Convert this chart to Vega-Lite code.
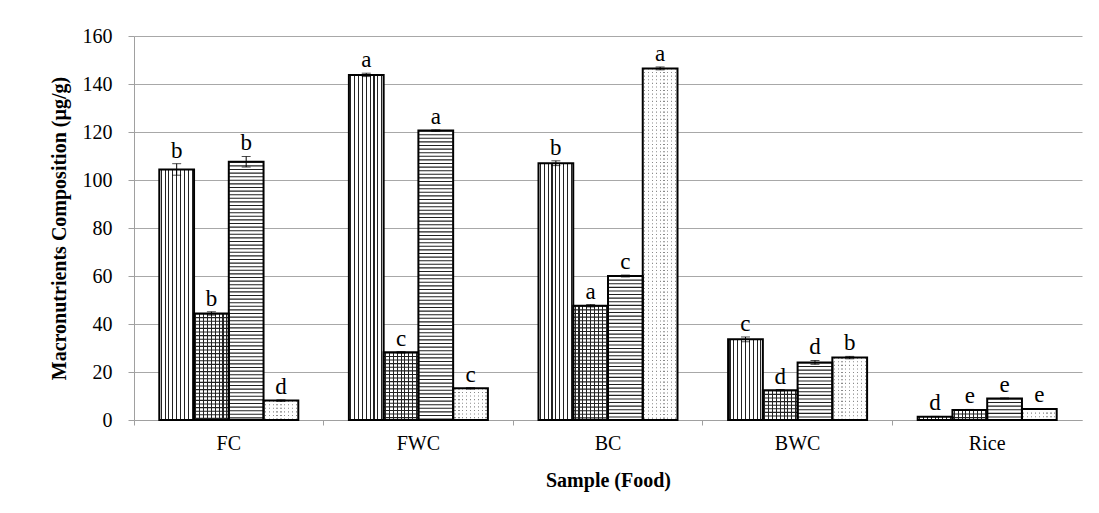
{
  "$schema": "https://vega.github.io/schema/vega-lite/v6.json",
  "width": 948,
  "height": 384,
  "autosize": {"type": "none"},
  "padding": {"left": 134, "top": 36, "right": 17, "bottom": 93},
  "background": "white",
  "config": {
    "font": "Liberation Serif",
    "view": {"stroke": null}
  },
  "data": {"values": [
    {"sample": "FC", "series": "s1", "value": 104.4, "lo": 102.0, "hi": 106.8, "letter": "b"},
    {"sample": "FC", "series": "s2", "value": 44.4, "lo": 43.7, "hi": 45.1, "letter": "b"},
    {"sample": "FC", "series": "s3", "value": 107.6, "lo": 105.4, "hi": 109.8, "letter": "b"},
    {"sample": "FC", "series": "s4", "value": 8.1, "lo": 7.8, "hi": 8.4, "letter": "d"},
    {"sample": "FWC", "series": "s1", "value": 143.8, "lo": 143.1, "hi": 144.5, "letter": "a"},
    {"sample": "FWC", "series": "s2", "value": 28.2, "lo": 27.9, "hi": 28.5, "letter": "c"},
    {"sample": "FWC", "series": "s3", "value": 120.6, "lo": 120.3, "hi": 120.9, "letter": "a"},
    {"sample": "FWC", "series": "s4", "value": 13.2, "lo": 12.9, "hi": 13.5, "letter": "c"},
    {"sample": "BC", "series": "s1", "value": 107.0, "lo": 106.0, "hi": 108.0, "letter": "b"},
    {"sample": "BC", "series": "s2", "value": 47.6, "lo": 47.1, "hi": 48.1, "letter": "a"},
    {"sample": "BC", "series": "s3", "value": 60.0, "lo": 59.6, "hi": 60.4, "letter": "c"},
    {"sample": "BC", "series": "s4", "value": 146.5, "lo": 145.9, "hi": 147.1, "letter": "a"},
    {"sample": "BWC", "series": "s1", "value": 33.6, "lo": 32.6, "hi": 34.6, "letter": "c"},
    {"sample": "BWC", "series": "s2", "value": 12.4, "lo": 12.1, "hi": 12.7, "letter": "d"},
    {"sample": "BWC", "series": "s3", "value": 24.0, "lo": 23.2, "hi": 24.8, "letter": "d"},
    {"sample": "BWC", "series": "s4", "value": 26.0, "lo": 25.5, "hi": 26.5, "letter": "b"},
    {"sample": "Rice", "series": "s1", "value": 1.4, "lo": 1.3, "hi": 1.5, "letter": "d"},
    {"sample": "Rice", "series": "s2", "value": 4.2, "lo": 4.0, "hi": 4.4, "letter": "e"},
    {"sample": "Rice", "series": "s3", "value": 9.0, "lo": 8.8, "hi": 9.2, "letter": "e"},
    {"sample": "Rice", "series": "s4", "value": 4.6, "lo": 4.4, "hi": 4.8, "letter": "e"}
  ]},
  "encoding": {
    "x": {
      "field": "sample", "type": "nominal",
      "scale": {"domain": ["FC", "FWC", "BC", "BWC", "Rice"], "paddingInner": 0, "paddingOuter": 0},
      "axis": {
        "title": "Sample (Food)", "titleFont": "Liberation Serif", "titleFontSize": 20, "titleFontWeight": "bold", "titlePadding": 17,
        "labelFont": "Liberation Serif", "labelAngle": 0, "labelFontSize": 20, "labelPadding": 8, "labelColor": "#000", "titleColor": "#000",
        "bandPosition": 0, "tickSize": 5, "tickColor": "#a0a0a0",
        "domainColor": "#a0a0a0", "grid": false
      }
    },
    "xOffset": {
      "field": "series", "type": "nominal",
      "scale": {"domain": ["s1", "s2", "s3", "s4"], "paddingInner": 0, "paddingOuter": 0.728}
    },
    "y": {
      "field": "value", "type": "quantitative",
      "scale": {"domain": [0, 160], "nice": false, "zero": true},
      "axis": {
        "title": "Macronutrients Composition (µg/g)", "titleFont": "Liberation Serif", "titleFontSize": 20, "titleFontWeight": "bold", "titlePadding": 13,
        "labelFont": "Liberation Serif", "labelFontSize": 20, "labelPadding": 16, "labelColor": "#000", "titleColor": "#000",
        "values": [0, 20, 40, 60, 80, 100, 120, 140, 160],
        "tickSize": 6, "tickColor": "#a0a0a0", "domainColor": "#a0a0a0",
        "grid": true, "gridColor": "#a8a8a8", "gridWidth": 1
      }
    }
  },
  "layer": [
    {
      "transform": [{"filter": "datum.series === 's1' || datum.series === 's2'"}],
      "mark": {"type": "bar", "fill": {
        "gradient": "linear", "x1": 0, "y1": 0, "x2": 1, "y2": 0,
        "stops": [
          {"offset": 0, "color": "white"}, {"offset": 0.040, "color": "white"}, {"offset": 0.040, "color": "#222"}, {"offset": 0.070, "color": "#222"}, {"offset": 0.070, "color": "white"},
          {"offset": 0.151, "color": "white"}, {"offset": 0.151, "color": "#222"}, {"offset": 0.181, "color": "#222"}, {"offset": 0.181, "color": "white"},
          {"offset": 0.262, "color": "white"}, {"offset": 0.262, "color": "#222"}, {"offset": 0.292, "color": "#222"}, {"offset": 0.292, "color": "white"},
          {"offset": 0.373, "color": "white"}, {"offset": 0.373, "color": "#222"}, {"offset": 0.403, "color": "#222"}, {"offset": 0.403, "color": "white"},
          {"offset": 0.485, "color": "white"}, {"offset": 0.485, "color": "#222"}, {"offset": 0.515, "color": "#222"}, {"offset": 0.515, "color": "white"},
          {"offset": 0.596, "color": "white"}, {"offset": 0.596, "color": "#222"}, {"offset": 0.626, "color": "#222"}, {"offset": 0.626, "color": "white"},
          {"offset": 0.707, "color": "white"}, {"offset": 0.707, "color": "#222"}, {"offset": 0.737, "color": "#222"}, {"offset": 0.737, "color": "white"},
          {"offset": 0.818, "color": "white"}, {"offset": 0.818, "color": "#222"}, {"offset": 0.848, "color": "#222"}, {"offset": 0.848, "color": "white"},
          {"offset": 0.929, "color": "white"}, {"offset": 0.929, "color": "#222"}, {"offset": 0.959, "color": "#222"}, {"offset": 0.959, "color": "white"},
          {"offset": 1, "color": "white"}
        ]}}
    },
    {
      "transform": [{"filter": "datum.series === 's3' || datum.series === 's4'"}],
      "mark": {"type": "bar", "fill": "white"}
    },
    {
      "transform": [{"filter": "datum.series !== 's1'"}],
      "mark": {"type": "rule", "strokeWidth": 34, "strokeDash": [1.1, 2.5], "strokeCap": "butt"},
      "encoding": {
        "y2": {"datum": 0},
        "color": {"condition": {"test": "datum.series === 's4'", "value": "#8a8a8a"}, "value": "#222"}
      }
    },
    {
      "transform": [{"filter": "datum.series === 's4'"}],
      "mark": {"type": "bar", "fill": {
        "gradient": "linear", "x1": 0, "y1": 0, "x2": 1, "y2": 0,
        "stops": [
          {"offset": 0, "color": "white"}, {"offset": 0.038, "color": "white"}, {"offset": 0.038, "color": "rgba(255,255,255,0)"}, {"offset": 0.073, "color": "rgba(255,255,255,0)"}, {"offset": 0.073, "color": "white"},
          {"offset": 0.149, "color": "white"}, {"offset": 0.149, "color": "rgba(255,255,255,0)"}, {"offset": 0.184, "color": "rgba(255,255,255,0)"}, {"offset": 0.184, "color": "white"},
          {"offset": 0.260, "color": "white"}, {"offset": 0.260, "color": "rgba(255,255,255,0)"}, {"offset": 0.295, "color": "rgba(255,255,255,0)"}, {"offset": 0.295, "color": "white"},
          {"offset": 0.371, "color": "white"}, {"offset": 0.371, "color": "rgba(255,255,255,0)"}, {"offset": 0.406, "color": "rgba(255,255,255,0)"}, {"offset": 0.406, "color": "white"},
          {"offset": 0.482, "color": "white"}, {"offset": 0.482, "color": "rgba(255,255,255,0)"}, {"offset": 0.518, "color": "rgba(255,255,255,0)"}, {"offset": 0.518, "color": "white"},
          {"offset": 0.594, "color": "white"}, {"offset": 0.594, "color": "rgba(255,255,255,0)"}, {"offset": 0.629, "color": "rgba(255,255,255,0)"}, {"offset": 0.629, "color": "white"},
          {"offset": 0.705, "color": "white"}, {"offset": 0.705, "color": "rgba(255,255,255,0)"}, {"offset": 0.740, "color": "rgba(255,255,255,0)"}, {"offset": 0.740, "color": "white"},
          {"offset": 0.816, "color": "white"}, {"offset": 0.816, "color": "rgba(255,255,255,0)"}, {"offset": 0.851, "color": "rgba(255,255,255,0)"}, {"offset": 0.851, "color": "white"},
          {"offset": 0.927, "color": "white"}, {"offset": 0.927, "color": "rgba(255,255,255,0)"}, {"offset": 0.962, "color": "rgba(255,255,255,0)"}, {"offset": 0.962, "color": "white"},
          {"offset": 1, "color": "white"}
        ]}}
    },
    {
      "mark": {"type": "bar", "fill": null, "fillOpacity": 0, "stroke": "black", "strokeWidth": 2}
    },
    {
      "mark": {"type": "rule", "color": "black", "strokeWidth": 1},
      "encoding": {
        "y": {"field": "lo", "type": "quantitative"},
        "y2": {"field": "hi"}
      }
    },
    {
      "mark": {"type": "tick", "color": "black", "size": 9, "thickness": 1, "orient": "horizontal"},
      "encoding": {"y": {"field": "lo", "type": "quantitative"}}
    },
    {
      "mark": {"type": "tick", "color": "black", "size": 9, "thickness": 1, "orient": "horizontal"},
      "encoding": {"y": {"field": "hi", "type": "quantitative"}}
    },
    {
      "mark": {"type": "text", "font": "Liberation Serif", "fontSize": 23, "baseline": "alphabetic", "dy": -6, "color": "black"},
      "encoding": {
        "y": {"field": "hi", "type": "quantitative"},
        "text": {"field": "letter"}
      }
    }
  ]
}
